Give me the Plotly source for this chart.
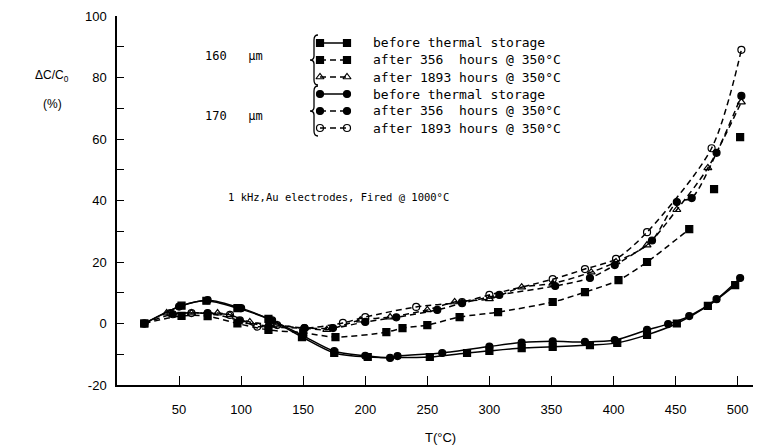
import plotly.graph_objects as go

# ---------------- data ----------------
# 160 um, before thermal storage (solid, filled squares)
t_160_before = [22, 52, 72, 97, 122, 149, 175, 202, 252, 282, 300, 326, 351, 381, 403, 427, 451, 476, 498]
c_160_before = [0, 5.8, 7.4, 5.0, 1.5, -4.4, -9.6, -10.9, -10.9, -9.6, -8.9, -8.0, -7.6, -7.0, -6.3, -3.7, 0, 5.7, 12.5]

# 160 um, after 356 h @ 350C (dashed, filled squares)
t_160_356 = [22, 52, 73, 97, 122, 150, 176, 217, 230, 250, 276, 307, 351, 377, 404, 427, 461]
c_160_356 = [0, 2.5, 2.4, 0, -2.1, -3.0, -4.4, -2.8, -1.5, -0.5, 2.1, 3.7, 7.0, 10.2, 14.1, 20.0, 30.7]
# 160 um, after 356 h: unconnected points
t_160_356_pts = [481, 502]
c_160_356_pts = [43.7, 60.6]

# 160 um, after 1893 h @ 350C (dashed, open triangles)
t_160_1893 = [40, 60, 81, 91, 107, 129, 151, 169, 196, 220, 250, 272, 300, 326, 351, 382, 402, 427, 451, 476, 503]
c_160_1893 = [3.4, 3.4, 3.4, 2.8, 0.5, -0.5, -1.5, -2.0, 1.1, 2.1, 4.4, 7.0, 8.0, 11.8, 13.0, 16.7, 20.0, 25.5, 37.0, 50.6, 72.0]

# 170 um, before thermal storage (solid, filled circles)
t_170_before = [22, 50, 73, 100, 125, 150, 175, 200, 220, 226, 262, 300, 326, 351, 377, 401, 427, 444, 461, 483, 502]
c_170_before = [0, 5.5, 7.6, 5.0, 1.0, -4.0, -9.0, -10.5, -11.2, -10.6, -9.6, -7.5, -6.2, -5.8, -6.0, -5.4, -2.1, -0.2, 2.4, 7.9, 14.8]

# 170 um, after 356 h @ 350C (dashed, filled circles)
t_170_356 = [22, 45, 73, 99, 122, 151, 174, 200, 225, 258, 278, 308, 353, 381, 401, 431, 451, 463, 483, 503]
c_170_356 = [0, 3.0, 3.4, 1.0, -1.0, -1.5, -1.5, 0.5, 2.0, 4.4, 6.6, 9.3, 12.2, 14.8, 19.0, 27.0, 39.5, 40.8, 55.5, 74.0]

# 170 um, after 1893 h @ 350C (dashed, open circles)
t_170_1893 = [43, 60, 91, 113, 129, 151, 182, 200, 241, 278, 300, 351, 377, 402, 427, 479, 503]
c_170_1893 = [3.4, 3.4, 2.8, -1.0, -0.5, -1.5, 0.2, 2.1, 5.4, 7.0, 9.3, 14.4, 17.7, 21.0, 29.7, 57.0, 89.0]

x_ticks = [50, 100, 150, 200, 250, 300, 350, 400, 450, 500]
y_ticks = [-20, 0, 20, 40, 60, 80, 100]

legend_names = [
    "before thermal storage",
    "after 356  hours @ 350°C",
    "after 1893 hours @ 350°C",
    "before thermal storage",
    "after 356  hours @ 350°C",
    "after 1893 hours @ 350°C",
]
group_labels = ["160   µm", "170   µm"]

# ---------------- styling / layout ----------------
BLK = "black"
MONO = "DejaVu Sans Mono"
OFF = 8                      # page body margin in the browser
W, H = 761 - OFF, 446 - OFF
L, R, T, B = 109, 1, 8, 61   # plot area on screen: x 117..760, y 16..385
PW, PH = W - L - R, H - T - B
DASH = "6px,4px"

def px(xs):   # screen pixel -> paper x
    return (xs - OFF - L) / PW

def py(ys):   # screen pixel -> paper y
    return 1 - (ys - OFF - T) / PH

styles = [
    ("solid", "square"),
    (DASH, "square"),
    (DASH, "triangle-up-open"),
    ("solid", "circle"),
    (DASH, "circle"),
    (DASH, "circle-open"),
]
series = [
    (t_160_before, c_160_before),
    (t_160_356, c_160_356),
    (t_160_1893, c_160_1893),
    (t_170_before, c_170_before),
    (t_170_356, c_170_356),
    (t_170_1893, c_170_1893),
]

fig = go.Figure()

def marker(symbol):
    return dict(symbol=symbol, size=7, color=BLK, line=dict(color=BLK, width=1.2))

for (x, y), (dash, sym), name in zip(series, styles, legend_names):
    fig.add_trace(go.Scatter(
        x=x, y=y, name=name, mode="lines+markers", showlegend=False,
        line=dict(color=BLK, width=1.5, dash=dash, shape="spline", smoothing=0.8),
        marker=marker(sym),
    ))
fig.add_trace(go.Scatter(x=t_160_356_pts, y=c_160_356_pts, mode="markers", showlegend=False,
                         name="after 356 hours (160 µm)", marker=marker("square")))

def note(xs, ys, text, size=12, family=None, xanchor="center"):
    f = dict(size=size)
    if family:
        f["family"] = family
    fig.add_annotation(xref="paper", yref="paper", x=px(xs), y=py(ys), xanchor=xanchor,
                       yanchor="middle", text=text, showarrow=False, font=f)

# ----- hand-made legend on a screen-pixel-scaled overlay axis -----
row_y = [43, 60, 77, 94, 111, 128]
sx0, sx1, tx = 320, 347, 371
for ry, (dash, sym), name in zip(row_y, styles, legend_names):
    fig.add_trace(go.Scatter(
        x=[sx0, sx1], y=[ry, ry], xaxis="x2", yaxis="y2", mode="lines+markers",
        showlegend=False, hoverinfo="skip", cliponaxis=False,
        line=dict(color=BLK, width=1.5, dash=dash),
        marker=marker(sym),
    ))
    note(tx, ry, name, size=13, family=MONO, xanchor="left")

def brace(x, y0, y1):
    ym = (y0 + y1) / 2
    return (f"M {x+4},{y0} Q {x},{y0} {x},{y0+5} L {x},{ym-4} Q {x},{ym} {x-4},{ym} "
            f"Q {x},{ym} {x},{ym+4} L {x},{y1-5} Q {x},{y1} {x+4},{y1}")

for (y0, y1) in [(row_y[0] - 8, row_y[2] + 8), (row_y[3] - 8, row_y[5] + 8)]:
    fig.add_shape(type="path", xref="x2", yref="y2", path=brace(314, y0, y1),
                  line=dict(color=BLK, width=1.3))

for lbl, ry in zip(group_labels, [row_y[1] - 4, row_y[4] + 5]):
    note(203, ry, lbl, size=12, family=MONO, xanchor="left")

fig.update_layout(
    width=W, height=H,
    margin=dict(l=L, r=R, t=T, b=B, autoexpand=False),
    paper_bgcolor="white", plot_bgcolor="white",
    font=dict(family="Liberation Sans Narrow, Liberation Sans, Arial", size=13, color=BLK),
    showlegend=False,
    xaxis2=dict(overlaying="x", range=[OFF + L, OFF + W - R], visible=False, fixedrange=True),
    yaxis2=dict(overlaying="y", range=[OFF + H - B, OFF + T], visible=False, fixedrange=True),
    xaxis=dict(
        range=[0, 518], showgrid=False, zeroline=False, automargin=False,
        showline=True, linecolor=BLK, linewidth=1.5,
        ticks="inside", ticklen=9, tickwidth=1.2, tickcolor=BLK,
        tickvals=x_ticks, ticktext=[str(v) for v in x_ticks],
        ticklabelstandoff=12,
    ),
    yaxis=dict(
        range=[-20, 100], showgrid=False, zeroline=False, automargin=False,
        showline=True, linecolor=BLK, linewidth=1.5,
        ticks="inside", ticklen=7, tickwidth=1.2, tickcolor=BLK,
        tickvals=y_ticks, ticktext=[str(v) for v in y_ticks],
        minor=dict(dtick=10, tick0=0, ticks="inside", ticklen=7, tickwidth=1.2, tickcolor=BLK),
        ticklabelstandoff=6,
    ),
)

# axis titles and note
note(440, 437, "T(°C)", size=13)
note(52, 76, "ΔC/C<sub>0</sub>", size=12)
note(52, 104, "(%)", size=12)
note(226, 197, "1 kHz,Au electrodes, Fired @ 1000°C", size=10.5, family=MONO, xanchor="left")

fig.write_html("out.html")
